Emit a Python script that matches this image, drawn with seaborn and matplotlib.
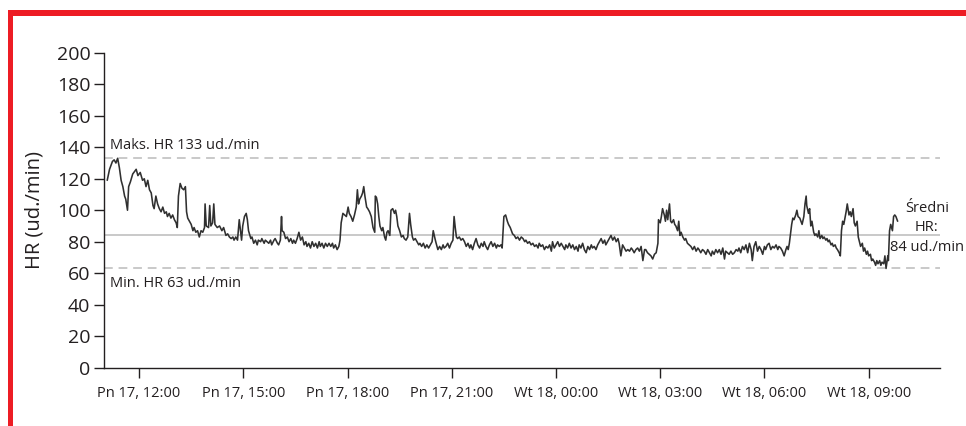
import matplotlib
matplotlib.use("Agg")
import matplotlib.pyplot as plt
import matplotlib.transforms as mtransforms
from matplotlib.patches import Rectangle
import pandas as pd
import seaborn as sns

# ---- data: time in minutes from Pn 17, 00:00 ; heart rate in beats/min ----
t1 = [665,669,674,677,680,683,686,689,692,695, 697,700,702,705,709,715,718,722,726,729,
      732,735,738,741,744,746,749,752,755,758, 761,764,767,769,772,775,778,781,784,786,
      788,791,794,797,800,802,804,807,810,813, 815,818,821,824,827,830,833,834,836,840,
      842,844,847,849,851,855,859,863,866,870, 873,876,879,882,884,887,890,893]
hr1 = [119,126,131,132,130,133,127,119,115,109, 107,100,115,118,123,126,122,124,119,120,
       115,119,113,111,103,101,109,104,101,99, 102,98,99,96,98,95,97,94,92,89,
       109,117,114,113,115,99,95,93,91,87, 89,86,87,83,87,86,89,104,90,89,
       103,90,92,104,91,89,90,87,89,84, 85,83,82,83,81,83,81,94]

t2 = [897,899,902,905,907,909,913,915,918,921, 924,926,930,932,936,938,941,944,947,949,
      953,955,959,961,964,966,967,970,973,976, 979,982,985,987,990,993,996,999,1002,1005,
      1008,1010,1013,1016,1019,1022,1025,1028,1031,1033, 1036,1039,1042,1045,1048,1051,1054,1056,1059,1062,
      1065,1067,1069,1072,1075,1078,1081,1083,1086,1089, 1092,1095,1097,1099,1101,1104,1106,1108,1110,1113,
      1115,1118,1121,1124,1127,1128]
hr2 = [81,90,96,98,94,87,82,83,79,81, 78,81,80,82,79,81,80,79,81,78,
       81,82,79,78,81,96,87,86,82,83, 80,82,79,81,79,82,86,81,83,78,
       80,77,79,76,80,77,79,76,80,77, 79,76,79,77,79,77,79,76,78,75,
       77,81,92,98,97,96,102,98,96,93, 97,102,113,104,107,109,111,115,109,102,
       101,99,96,89,86,109]

t3 = [1130,1132,1134,1136,1139,1141,1144,1146,1148,1150, 1153,1155,1158,1161,1163,1165,1167,1170,1173,1176,
      1178,1181,1184,1187,1189,1192,1194,1197,1200,1203, 1205,1208,1211,1214,1217,1220,1223,1226,1228,1231,
      1233,1236,1239,1242,1245,1247,1250,1253,1256,1259, 1262,1264,1266,1268,1270,1273,1276,1279,1282,1285,
      1288,1291,1293,1296,1299,1302,1305,1308,1311,1314, 1316,1319,1322,1325,1328,1331,1334,1337,1339,1342,
      1345,1347,1350,1353,1356,1358,1361]
hr3 = [108,104,96,90,87,89,83,81,86,87, 84,100,101,98,100,96,90,87,83,84,
       82,81,83,98,91,83,81,82,80,78, 79,77,79,76,78,76,78,80,87,82,
       79,75,77,75,78,76,77,79,76,79, 81,96,89,83,82,83,81,82,80,77,
       79,76,78,75,79,82,78,76,79,77, 80,77,75,78,80,77,79,76,78,77,
       78,76,96,97,93,91,89]

t4 = [1363,1365,1368,1371,1374,1377,1380,1383,1386,1388, 1391,1394,1397,1400,1403,1406,1409,1411,1414,1417,
      1420,1423,1426,1429,1432,1434,1437,1440,1443,1446, 1449,1452,1455,1457,1460,1463,1466,1469,1472,1475,
      1478,1480,1483,1486,1489,1492,1495,1498,1501,1503, 1506,1509,1512,1515,1518,1521,1524,1526,1529,1532,
      1535,1538,1541,1544,1547,1549,1552,1555,1558,1561, 1564,1567,1570,1572,1575,1578,1581,1584,1587,1590,
      1593]
hr4 = [87,85,84,82,83,81,83,82,80,81, 79,80,78,79,77,78,76,79,77,78,
       75,77,76,78,74,80,76,78,80,77, 79,77,75,78,76,79,76,78,75,77,
       74,78,76,79,75,73,77,75,78,76, 77,75,78,80,82,79,81,78,80,82,
       84,81,83,80,82,79,71,78,76,74, 75,74,76,75,73,75,76,74,77,68,
       75]

t5 = [1595,1598,1601,1604,1607,1610,1613,1616,1617,1620, 1622,1624,1627,1629,1631,1633,1636,1638,1640,1643,
      1645,1647,1650,1652,1654,1656,1659,1662,1664,1667, 1670,1673,1676,1679,1682,1685,1687,1690,1693,1696,
      1699,1702,1705,1708,1710,1713,1716,1719,1722,1725, 1728,1731,1733,1736,1739,1742,1745,1748,1751,1754,
      1756,1759,1762,1765,1768,1771,1774,1777,1779,1782, 1785,1788,1791,1794,1797,1800,1802,1805,1808,1811,
      1814,1817,1820,1823,1825]
hr5 = [75,73,72,71,69,72,73,79,94,92, 96,101,97,93,100,94,104,93,92,94,
       91,90,87,93,84,86,83,81,82,79, 78,77,75,77,74,76,75,73,75,74,
       72,75,73,71,74,72,75,73,75,72, 76,69,74,73,72,74,72,73,75,74,
       76,73,77,75,78,73,79,75,68,77, 80,74,77,75,72,77,75,78,79,75,
       77,76,78,75,77]

t6 = [1828,1831,1834,1837,1839,1841,1843,1845,1847,1849, 1851,1854,1856,1858,1861,1863,1865,1868,1870,1872,
      1873,1876,1878,1880,1882,1885,1887,1889,1892,1894, 1896,1899,1901,1903,1906,1908,1910,1912,1915,1917,
      1919,1922,1924,1926,1929,1931,1933,1935,1937,1939, 1941,1943,1946,1948,1950,1953,1955,1957,1960,1962,
      1964,1966,1969,1971,1973,1976,1978,1980,1983,1985, 1987,1990,1992,1994,1996,1999,2001,2003,2006,2008,
      2010,2013,2014,2016,2018,2021,2023,2025,2027,2030]
hr6 = [76,74,71,75,77,75,79,85,91,95, 94,97,100,96,95,93,91,96,104,109,
       103,98,101,90,93,86,84,85,83,87, 82,84,82,83,81,82,80,81,78,79,
       77,78,76,75,73,71,87,93,91,95, 99,104,97,99,96,101,92,90,93,83,
       80,77,79,74,76,72,74,71,72,68, 69,67,65,68,66,68,65,67,66,71,
       63,71,68,87,91,87,96,97,96,93]

max_hr = 133
min_hr = 63
mean_hr = 84

tick_hours = [12, 15, 18, 21, 24, 27, 30, 33]
tick_labels = ["Pn 17, 12:00", "Pn 17, 15:00", "Pn 17, 18:00", "Pn 17, 21:00",
               "Wt 18, 00:00", "Wt 18, 03:00", "Wt 18, 06:00", "Wt 18, 09:00"]
y_ticks = list(range(0, 201, 20))

max_label = "Maks. HR 133 ud./min"
min_label = "Min. HR 63 ud./min"
mean_label = ["Średni", "HR:", "84 ud./min"]

# ---- build table ----
minutes = t1 + t2 + t3 + t4 + t5 + t6
rates = hr1 + hr2 + hr3 + hr4 + hr5 + hr6
df = pd.DataFrame({"hour": [m / 60 for m in minutes], "hr": rates})

sns.set_theme(style="ticks")
plt.rcParams["font.family"] = ["Open Sans", "DejaVu Sans"]

fig = plt.figure(figsize=(9.66, 4.26), dpi=100)
fig.patch.set_facecolor("white")
ax = fig.add_axes([0.108, 0.137, 0.865, 0.739])
ax.set_facecolor("white")

grey = "#c9c9c9"
ax.axhline(mean_hr, color=grey, lw=1.4, zorder=1)
ax.axhline(max_hr, color=grey, lw=1.4, ls=(0, (4.5, 3.0)), zorder=1)
ax.axhline(min_hr, color=grey, lw=1.4, ls=(0, (4.5, 3.0)), zorder=1)

sns.lineplot(data=df, x="hour", y="hr", ax=ax, color="#303030", lw=1.15,
             estimator=None, sort=False, zorder=3)

ax.set_xlim(11.0, 35.05)
ax.set_ylim(0, 200)
ax.set_xticks(tick_hours)
ax.set_xticklabels(tick_labels, fontsize=10.5, color="#231f20")
ax.set_yticks(y_ticks)
ax.set_yticklabels([str(v) for v in y_ticks], fontsize=14, color="#231f20")
ax.set_xlabel("")
ax.set_ylabel("HR (ud./min)", fontsize=14.5, color="#231f20", labelpad=9)
ax.tick_params(axis="y", length=7, width=1.0, color="#231f20", pad=3)
ax.tick_params(axis="x", length=7, width=1.0, color="#231f20", pad=6)
for side in ["top", "right"]:
    ax.spines[side].set_visible(False)
for side in ["left", "bottom"]:
    ax.spines[side].set_color("#231f20")
    ax.spines[side].set_linewidth(1.0)

trans = mtransforms.blended_transform_factory(ax.transAxes, ax.transData)
ax.text(0.007, 139, max_label, transform=trans, fontsize=10.5, color="#231f20",
        ha="left", va="baseline")
ax.text(0.007, 51, min_label, transform=trans, fontsize=10.5, color="#231f20",
        ha="left", va="baseline")
for label, yv in zip(mean_label, [99, 86.5, 74]):
    ax.text(0.9844, yv, label, transform=trans, fontsize=10.5, color="#231f20",
            ha="center", va="baseline", clip_on=False)

# red frame
red = "#ed1c24"
fig.add_artist(Rectangle((8 / 966, 1 - 16 / 426), 1 - 8 / 966, 6 / 426,
                         transform=fig.transFigure, color=red, lw=0))
fig.add_artist(Rectangle((8 / 966, 0), 5 / 966, 1 - 10 / 426,
                         transform=fig.transFigure, color=red, lw=0))

fig.savefig("out.png", dpi=100)
